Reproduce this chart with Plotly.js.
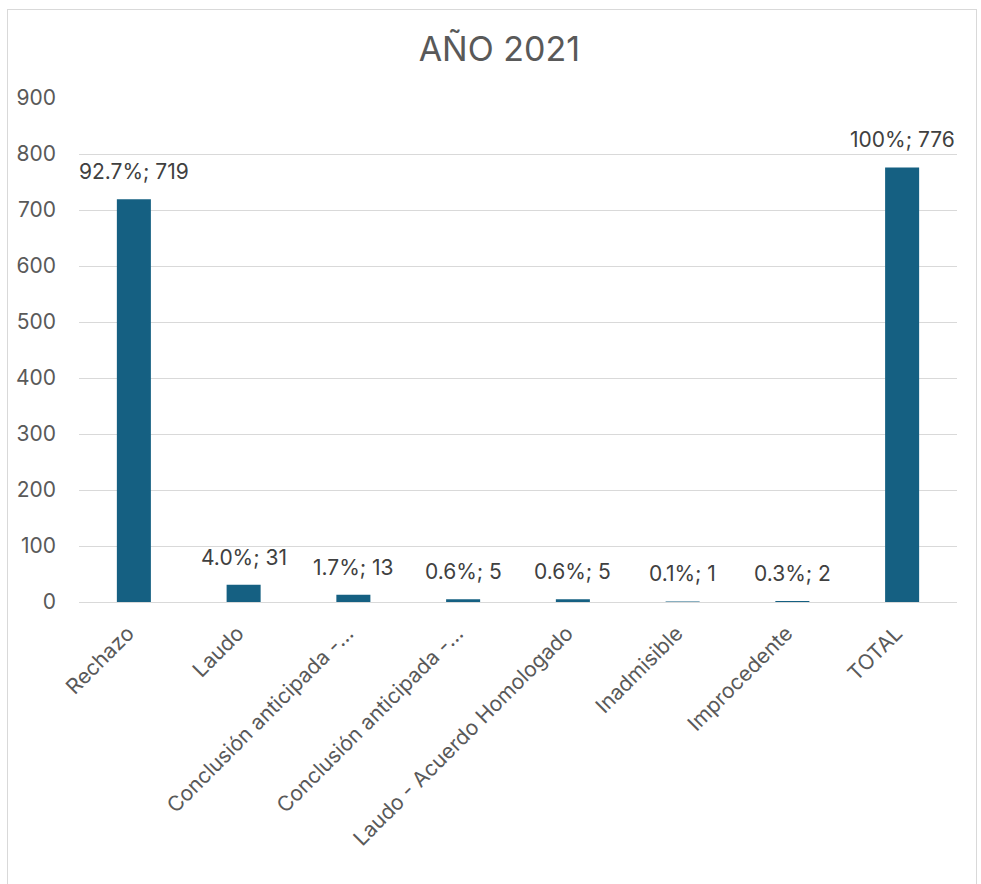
<!DOCTYPE html>
<html>
<head>
<meta charset="utf-8">
<script src="https://cdn.plot.ly/plotly-3.0.1.min.js"></script>
<style>
  html, body { margin: 0; padding: 0; background: #ffffff; }
  #frame { position: absolute; left: 7px; top: 9px; width: 970px; height: 890px; border: 1px solid #d9d9d9; box-sizing: border-box; }
  #chart { position: absolute; left: 0; top: 0; width: 981px; height: 884px; }
</style>
</head>
<body>
<div id="frame"></div>
<div id="chart"></div>
<script>
const categories = ["Rechazo", "Laudo", "Conclusión anticipada -…", "Conclusión anticipada -…", "Laudo - Acuerdo Homologado", "Inadmisible", "Improcedente", "TOTAL"];
const values = [719, 31, 13, 5, 5, 1, 2, 776];
const percents = ["92.7%", "4.0%", "1.7%", "0.6%", "0.6%", "0.1%", "0.3%", "100%"];
const yTicks = [0, 100, 200, 300, 400, 500, 600, 700, 800, 900];

const xIdx = categories.map((_, i) => i);
const labels = values.map((v, i) => percents[i] + "; " + v);
const FONT = "Inter, 'Open Sans', sans-serif";

const trace = {
  type: "bar",
  x: xIdx,
  y: values,
  width: 0.31,
  marker: { color: "#156082" },
  hoverinfo: "none"
};

const annotations = xIdx.map((xi, i) => ({
  x: xi,
  y: values[i],
  xref: "x",
  yref: "y",
  text: labels[i],
  showarrow: false,
  xanchor: "center",
  yanchor: "bottom",
  yshift: 13,
  font: { family: FONT, size: 21, color: "#404040" }
}));

const layout = {
  width: 981,
  height: 884,
  margin: { l: 79, r: 24, t: 98, b: 282 },
  paper_bgcolor: "rgba(0,0,0,0)",
  plot_bgcolor: "rgba(0,0,0,0)",
  showlegend: false,
  bargap: 0.69,
  annotations: annotations,
  title: {
    text: "AÑO 2021",
    x: 0.509,
    xanchor: "center",
    y: 0.945,
    yanchor: "middle",
    font: { family: FONT, size: 34, color: "#595959" }
  },
  xaxis: {
    type: "linear",
    range: [-0.5, 7.5],
    tickmode: "array",
    tickvals: xIdx,
    ticktext: categories,
    tickangle: -45,
    ticks: "",
    ticklabelstandoff: 14,
    ticklabelshift: -6,
    showgrid: false,
    zeroline: false,
    showline: false,
    tickfont: { family: FONT, size: 21, color: "#595959" },
    automargin: false
  },
  yaxis: {
    range: [0, 900],
    tickmode: "array",
    tickvals: yTicks,
    ticktext: yTicks.map(String),
    showgrid: true,
    gridcolor: "#d9d9d9",
    gridwidth: 1,
    zeroline: true,
    zerolinecolor: "#d9d9d9",
    zerolinewidth: 1,
    showline: false,
    ticks: "",
    ticklabelstandoff: 22,
    tickfont: { family: FONT, size: 21, color: "#595959" },
    automargin: false
  }
};

Plotly.newPlot("chart", [trace], layout, { staticPlot: true, displayModeBar: false });
</script>
</body>
</html>
